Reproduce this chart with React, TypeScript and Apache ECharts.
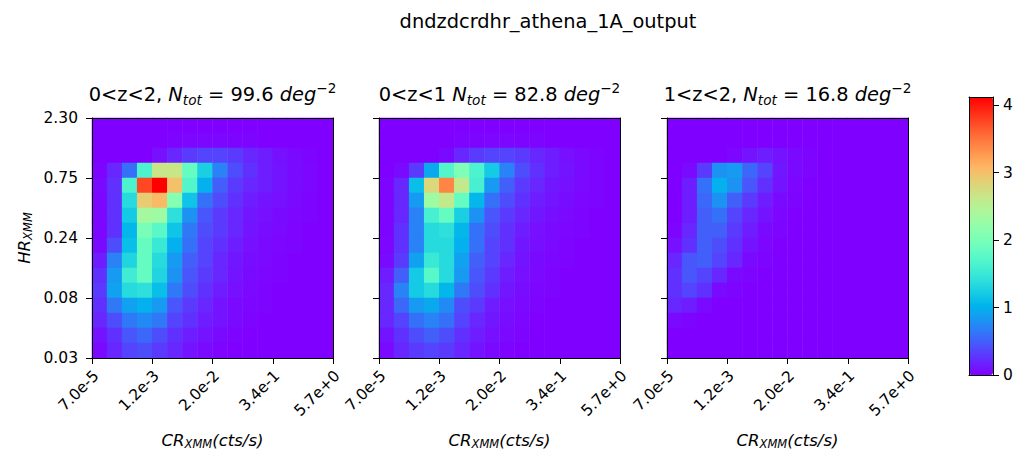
import React, { useEffect, useRef } from 'react';
import * as echarts from 'echarts';

const mainTitle = 'dndzdcrdhr_athena_1A_output';
const zRanges = ['0<z<2,', '0<z<1', '1<z<2,'];
const nTot = ['99.6', '82.8', '16.8'];
const xTickLabels = ['7.0e-5', '1.2e-3', '2.0e-2', '3.4e-1', '5.7e+0'];
const yTickLabels = ['0.03', '0.08', '0.24', '0.75', '2.30']; // bottom -> top
const colorbarTicks = [0, 1, 2, 3, 4];
const vMax = 4.12;
const crBins = Array.from({ length: 16 }, (_, i) => 'cr' + i);
const hrBins = Array.from({ length: 16 }, (_, i) => 'hr' + i);

// rows listed top (high HR) -> bottom (low HR), columns left (low CR) -> right
const mapAll = [
  [0, 0, 0, 0, 0, 0, 0, 0, 0, 0, 0, 0, 0, 0, 0, 0],
  [0, 0, 0, 0, 0, 0.02, 0.03, 0.03, 0.03, 0.02, 0.02, 0, 0, 0, 0, 0],
  [0, 0, 0, 0, 0.08, 0.2, 0.3, 0.35, 0.35, 0.3, 0.2, 0.15, 0.08, 0.05, 0.02, 0],
  [0.02, 0.2, 0.6, 1.65, 2.65, 2.65, 1.85, 1.25, 0.7, 0.4, 0.25, 0.15, 0.1, 0.05, 0.03, 0],
  [0.05, 0.25, 1.65, 3.75, 4.12, 3.0, 1.7, 1.0, 0.5, 0.3, 0.2, 0.15, 0.1, 0.05, 0.03, 0],
  [0.03, 0.25, 1.35, 2.9, 3.05, 2.1, 1.15, 0.6, 0.4, 0.25, 0.15, 0.1, 0.08, 0.05, 0.02, 0],
  [0.03, 0.25, 1.2, 2.35, 2.3, 1.4, 0.8, 0.45, 0.3, 0.2, 0.12, 0.08, 0.05, 0.03, 0.02, 0],
  [0.03, 0.25, 1.05, 2.0, 1.75, 1.15, 0.65, 0.4, 0.3, 0.2, 0.1, 0.06, 0.04, 0.02, 0, 0],
  [0.05, 0.4, 1.1, 1.85, 1.5, 1.0, 0.6, 0.35, 0.25, 0.15, 0.08, 0.05, 0.03, 0.02, 0, 0],
  [0.15, 0.7, 1.3, 1.85, 1.35, 0.85, 0.5, 0.35, 0.2, 0.12, 0.06, 0.04, 0.02, 0, 0, 0],
  [0.25, 0.85, 1.55, 1.85, 1.3, 0.8, 0.45, 0.3, 0.2, 0.1, 0.05, 0.03, 0.02, 0, 0, 0],
  [0.3, 0.9, 1.35, 1.4, 1.1, 0.65, 0.4, 0.25, 0.15, 0.08, 0.04, 0.02, 0, 0, 0, 0],
  [0.25, 0.65, 0.9, 1.0, 0.85, 0.45, 0.3, 0.2, 0.1, 0.05, 0.03, 0.02, 0, 0, 0, 0],
  [0.2, 0.4, 0.65, 0.75, 0.65, 0.35, 0.25, 0.15, 0.1, 0.05, 0.02, 0, 0, 0, 0, 0],
  [0.1, 0.25, 0.45, 0.55, 0.4, 0.25, 0.15, 0.1, 0.05, 0.02, 0, 0, 0, 0, 0, 0],
  [0.05, 0.2, 0.35, 0.4, 0.3, 0.2, 0.1, 0.05, 0.02, 0, 0, 0, 0, 0, 0, 0],
];

const mapLow = [
  [0, 0, 0, 0, 0, 0, 0, 0, 0, 0, 0, 0, 0, 0, 0, 0],
  [0, 0, 0, 0, 0, 0.02, 0.02, 0.03, 0.03, 0.02, 0.02, 0, 0, 0, 0, 0],
  [0, 0, 0, 0, 0.05, 0.2, 0.3, 0.35, 0.35, 0.3, 0.2, 0.15, 0.08, 0.04, 0.02, 0],
  [0, 0.05, 0.3, 0.95, 1.7, 2.05, 1.65, 1.2, 0.7, 0.4, 0.25, 0.15, 0.1, 0.05, 0.02, 0],
  [0.02, 0.2, 1.1, 2.8, 3.4, 2.6, 1.6, 0.85, 0.5, 0.3, 0.2, 0.12, 0.08, 0.04, 0.02, 0],
  [0.02, 0.2, 0.85, 2.3, 2.6, 1.85, 1.05, 0.6, 0.4, 0.25, 0.15, 0.1, 0.06, 0.03, 0.02, 0],
  [0.02, 0.2, 0.7, 1.6, 1.85, 1.25, 0.8, 0.45, 0.3, 0.2, 0.12, 0.07, 0.04, 0.02, 0, 0],
  [0.02, 0.25, 0.7, 1.35, 1.4, 1.05, 0.6, 0.4, 0.25, 0.15, 0.08, 0.05, 0.03, 0.02, 0, 0],
  [0.03, 0.25, 0.7, 1.35, 1.35, 1.0, 0.6, 0.35, 0.25, 0.12, 0.07, 0.04, 0.02, 0, 0, 0],
  [0.05, 0.3, 0.9, 1.5, 1.35, 0.9, 0.5, 0.35, 0.2, 0.1, 0.05, 0.03, 0.02, 0, 0, 0],
  [0.15, 0.5, 1.2, 1.75, 1.35, 0.85, 0.45, 0.3, 0.15, 0.08, 0.04, 0.02, 0, 0, 0, 0],
  [0.2, 0.7, 1.2, 1.35, 1.05, 0.65, 0.4, 0.25, 0.12, 0.06, 0.03, 0.02, 0, 0, 0, 0],
  [0.2, 0.55, 0.85, 0.95, 0.75, 0.4, 0.3, 0.15, 0.08, 0.04, 0.02, 0, 0, 0, 0, 0],
  [0.2, 0.35, 0.6, 0.7, 0.6, 0.35, 0.2, 0.12, 0.06, 0.03, 0, 0, 0, 0, 0, 0],
  [0.1, 0.25, 0.4, 0.5, 0.4, 0.25, 0.15, 0.08, 0.04, 0.02, 0, 0, 0, 0, 0, 0],
  [0.05, 0.2, 0.3, 0.35, 0.3, 0.2, 0.1, 0.05, 0.02, 0, 0, 0, 0, 0, 0, 0],
];

const mapHigh = [
  [0, 0, 0, 0, 0, 0, 0, 0, 0, 0, 0, 0, 0, 0, 0, 0],
  [0, 0, 0, 0, 0, 0, 0, 0, 0, 0, 0, 0, 0, 0, 0, 0],
  [0, 0, 0, 0, 0.03, 0.1, 0.15, 0.1, 0.05, 0.02, 0, 0, 0, 0, 0, 0],
  [0, 0.05, 0.3, 0.8, 0.85, 0.55, 0.35, 0.12, 0.05, 0.02, 0, 0, 0, 0, 0, 0],
  [0, 0.15, 0.6, 1.0, 0.8, 0.45, 0.25, 0.1, 0.03, 0, 0, 0, 0, 0, 0, 0],
  [0, 0.15, 0.55, 0.8, 0.5, 0.3, 0.15, 0.05, 0.02, 0, 0, 0, 0, 0, 0, 0],
  [0, 0.15, 0.5, 0.6, 0.35, 0.2, 0.1, 0.03, 0, 0, 0, 0, 0, 0, 0, 0],
  [0.02, 0.2, 0.5, 0.5, 0.3, 0.15, 0.05, 0.02, 0, 0, 0, 0, 0, 0, 0, 0],
  [0.08, 0.25, 0.5, 0.4, 0.25, 0.1, 0.03, 0, 0, 0, 0, 0, 0, 0, 0, 0],
  [0.2, 0.45, 0.5, 0.35, 0.2, 0.05, 0.02, 0, 0, 0, 0, 0, 0, 0, 0, 0],
  [0.25, 0.45, 0.35, 0.2, 0.05, 0.02, 0, 0, 0, 0, 0, 0, 0, 0, 0, 0],
  [0.25, 0.35, 0.25, 0.05, 0.02, 0, 0, 0, 0, 0, 0, 0, 0, 0, 0, 0],
  [0.2, 0.15, 0.05, 0, 0, 0, 0, 0, 0, 0, 0, 0, 0, 0, 0, 0],
  [0.05, 0.02, 0, 0, 0, 0, 0, 0, 0, 0, 0, 0, 0, 0, 0, 0],
  [0, 0, 0, 0, 0, 0, 0, 0, 0, 0, 0, 0, 0, 0, 0, 0],
  [0, 0, 0, 0, 0, 0, 0, 0, 0, 0, 0, 0, 0, 0, 0, 0],
];

const panels = [mapAll, mapLow, mapHigh];

// matplotlib "rainbow" colormap stops
const rainbowStops = Array.from({ length: 41 }, (_, i) => {
  const x = i / 40;
  const r = Math.min(1, Math.abs(2 * x - 0.5));
  const g = Math.max(0, Math.sin(Math.PI * x));
  const b = Math.max(0, Math.cos((Math.PI * x) / 2));
  return `rgb(${Math.round(r * 255)},${Math.round(g * 255)},${Math.round(b * 255)})`;
});

const FONT = 'DejaVu Sans';
const BLACK = '#000';

export default function App() {
  const ref = useRef<HTMLDivElement>(null);
  useEffect(() => {
    if (!ref.current) return;
    const chart = echarts.init(ref.current, null, { renderer: 'svg' });

    const gridLefts = [92, 379, 667];
    const gridTop = 118;
    const gridW = 241;
    const gridH = 240;

    const titleRich = {
      n: { fontFamily: FONT, fontSize: 19.4, fontWeight: 'normal', color: BLACK, lineHeight: 26 },
      i: { fontFamily: FONT, fontSize: 19.4, fontWeight: 'normal', fontStyle: 'italic', color: BLACK, lineHeight: 26 },
      s: { fontFamily: FONT, fontSize: 13.6, fontWeight: 'normal', fontStyle: 'italic', color: BLACK, lineHeight: 13, verticalAlign: 'bottom' },
      p: { fontFamily: FONT, fontSize: 13.6, fontWeight: 'normal', color: BLACK, lineHeight: 13, verticalAlign: 'top' },
    };

    const titles: any[] = [
      {
        text: mainTitle,
        left: 548,
        textAlign: 'center',
        top: 9,
        padding: 0,
        textStyle: { fontFamily: FONT, fontSize: 19.4, fontWeight: 'normal', color: BLACK, lineHeight: 24 },
      },
    ];
    panels.forEach((_, i) => {
      titles.push({
        text: `{n|${zRanges[i]} }{i|N}{s|tot}{n| = ${nTot[i]} }{i|deg}{p|−2}`,
        left: gridLefts[i] + gridW / 2,
        textAlign: 'center',
        top: 81,
        padding: 0,
        textStyle: { fontWeight: 'normal', rich: titleRich },
      });
    });

    const nameRich = {
      i: { fontFamily: FONT, fontSize: 16.5, fontStyle: 'italic', color: BLACK, lineHeight: 20 },
      s: { fontFamily: FONT, fontSize: 11.5, fontStyle: 'italic', color: BLACK, lineHeight: 11, verticalAlign: 'bottom' },
    };

    const grids: any[] = [];
    const xAxes: any[] = [];
    const yAxes: any[] = [];
    const series: any[] = [];

    const lineStyle = { color: BLACK, width: 1 };
    const frameLine = { show: true, onZero: false, lineStyle };
    const tickLabelStyle = { fontFamily: FONT, fontSize: 15.5, color: BLACK };

    panels.forEach((m, i) => {
      grids.push({ left: gridLefts[i], top: gridTop, width: gridW, height: gridH, outerBoundsMode: 'none' });
      // category axes hold the cells; drawn as the top / right frame
      xAxes.push({
        type: 'category', gridIndex: i, position: 'top', data: crBins, boundaryGap: true, z: 10,
        axisLine: frameLine, axisTick: { show: false }, axisLabel: { show: false }, splitLine: { show: false },
      });
      xAxes.push({
        type: 'value', gridIndex: i, position: 'bottom', min: 0, max: 16, interval: 4, z: 10,
        axisLine: frameLine,
        axisTick: { show: true, length: 6, lineStyle },
        axisLabel: {
          ...tickLabelStyle, rotate: 45, margin: 11, verticalAlign: 'top', lineHeight: 12,
          showMinLabel: true, showMaxLabel: true,
          formatter: (v: number) => xTickLabels[Math.round(v / 4)] ?? '',
        },
        splitLine: { show: false },
        name: '{i|CR}{s|XMM}{i|(cts/s)}',
        nameLocation: 'middle',
        nameGap: 72,
        nameTextStyle: { rich: nameRich },
      });
      yAxes.push({
        type: 'category', gridIndex: i, position: 'right', data: hrBins, boundaryGap: true, z: 10,
        axisLine: frameLine, axisTick: { show: false }, axisLabel: { show: false }, splitLine: { show: false },
      });
      yAxes.push({
        type: 'value', gridIndex: i, position: 'left', min: 0, max: 16, interval: 4, z: 10,
        axisLine: frameLine,
        axisTick: { show: true, length: 6, lineStyle },
        axisLabel: {
          show: i === 0, ...tickLabelStyle, margin: 14, showMinLabel: true, showMaxLabel: true,
          formatter: (v: number) => yTickLabels[Math.round(v / 4)] ?? '',
        },
        splitLine: { show: false },
        name: i === 0 ? '{i|HR}{s|XMM}' : '',
        nameLocation: 'middle',
        nameRotate: 90,
        nameGap: 58,
        nameTextStyle: { rich: nameRich },
      });
      const data: any[] = [];
      m.forEach((row, r) => row.forEach((v, c) => data.push([c, 15 - r, v])));
      series.push({
        type: 'heatmap',
        xAxisIndex: 2 * i,
        yAxisIndex: 2 * i,
        data,
        itemStyle: { borderWidth: 0 },
        emphasis: { disabled: true },
        silent: true,
      });
    });

    // colorbar frame and ticks
    const cbLeft = 969, cbTop = 97, cbW = 24, cbH = 278;
    grids.push({ left: cbLeft, top: cbTop, width: cbW, height: cbH, outerBoundsMode: 'none' });
    xAxes.push({ type: 'value', gridIndex: 3, position: 'bottom', min: 0, max: 1, z: 10, axisLine: frameLine, axisTick: { show: false }, axisLabel: { show: false }, splitLine: { show: false } });
    xAxes.push({ type: 'value', gridIndex: 3, position: 'top', min: 0, max: 1, z: 10, axisLine: frameLine, axisTick: { show: false }, axisLabel: { show: false }, splitLine: { show: false } });
    yAxes.push({ type: 'value', gridIndex: 3, position: 'left', min: 0, max: vMax, z: 10, axisLine: frameLine, axisTick: { show: false }, axisLabel: { show: false }, splitLine: { show: false } });
    yAxes.push({
      type: 'value', gridIndex: 3, position: 'right', min: 0, max: vMax, interval: 1, z: 10,
      axisLine: frameLine,
      axisTick: { show: true, length: 6, lineStyle, customValues: colorbarTicks },
      axisLabel: { ...tickLabelStyle, margin: 10, customValues: colorbarTicks, formatter: (v: number) => String(v) },
      splitLine: { show: false },
    });

    const option: any = {
      animation: false,
      backgroundColor: '#fff',
      title: titles,
      grid: grids,
      xAxis: xAxes,
      yAxis: yAxes,
      visualMap: {
        type: 'continuous',
        min: 0,
        max: vMax,
        seriesIndex: [0, 1, 2],
        calculable: false,
        orient: 'vertical',
        left: cbLeft,
        top: cbTop,
        itemWidth: cbW,
        itemHeight: cbH,
        padding: 0,
        text: null,
        hoverLink: false,
        inRange: { color: rainbowStops },
      },
      series,
    };
    chart.setOption(option);
    return () => chart.dispose();
  }, []);
  return <div ref={ref} style={{ position: 'fixed', left: 0, top: 0, width: 1016, height: 450 }} />;
}
